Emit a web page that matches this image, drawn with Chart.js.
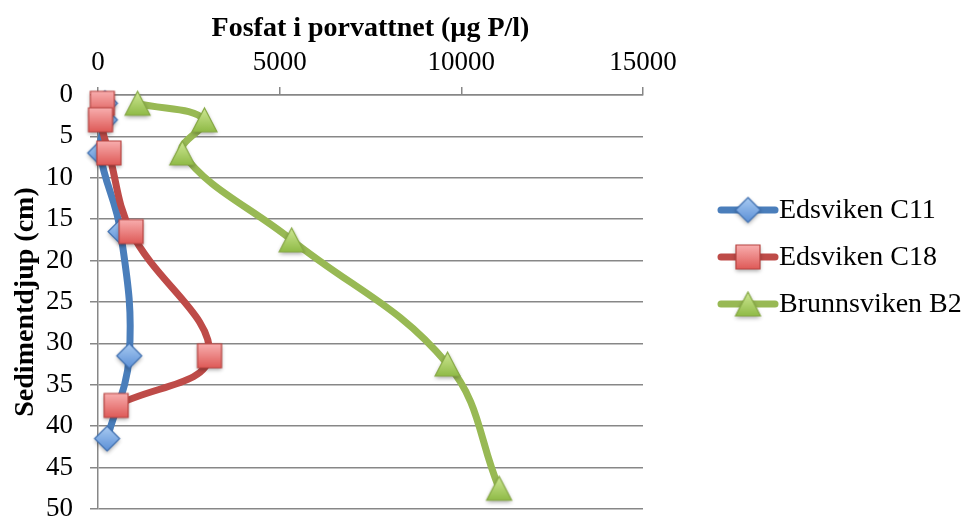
<!DOCTYPE html>
<html lang="sv">
<head>
<meta charset="utf-8">
<title>Fosfat i porvattnet</title>
<script src="https://cdn.jsdelivr.net/npm/chart.js@4/dist/chart.umd.min.js"></script>
<style>
  html, body { margin: 0; padding: 0; background: #ffffff; }
  #wrap { width: 963px; height: 528px; }
  canvas { display: block; }
</style>
</head>
<body>
<div id="wrap"><canvas id="c" width="963" height="528"></canvas></div>
<script>
// Sediment depth (cm) and pore-water phosphate (µg P/l) per core
const seriesNames = ['Edsviken C11', 'Edsviken C18', 'Brunnsviken B2'];

const depthC11 = [1, 3, 7, 16.5, 31.5, 41.5];
const phosC11  = [190, 190, 60, 620, 860, 250];

const depthC18 = [1, 3, 7, 16.5, 31.5, 37.5];
const phosC18  = [120, 70, 300, 910, 3070, 500];

const depthB2 = [1, 3, 7, 17.5, 32.5, 47.5];
const phosB2  = [1090, 2930, 2320, 5330, 9620, 11040];

const phosTicks  = [0, 5000, 10000, 15000];
const depthTicks = [0, 5, 10, 15, 20, 25, 30, 35, 40, 45, 50];

const FONT = "'Liberation Serif', 'Times New Roman', serif";
const GRID = '#878787';

// Shaded marker glyphs with a soft drop shadow
function markerImage(shape, w, h, top, bottom, stroke) {
  const pad = 7;
  const cv = document.createElement('canvas');
  cv.width = w + pad * 2;
  cv.height = h + pad * 2;
  const g = cv.getContext('2d');
  const cx = cv.width / 2, cy = cv.height / 2;
  g.beginPath();
  if (shape === 'diamond') {
    g.moveTo(cx, cy - h / 2);
    g.lineTo(cx + w / 2, cy);
    g.lineTo(cx, cy + h / 2);
    g.lineTo(cx - w / 2, cy);
  } else if (shape === 'square') {
    g.rect(cx - w / 2, cy - h / 2, w, h);
  } else {
    g.moveTo(cx, cy - h / 2);
    g.lineTo(cx + w / 2, cy + h / 2);
    g.lineTo(cx - w / 2, cy + h / 2);
  }
  g.closePath();
  const grad = g.createLinearGradient(0, cy - h / 2, 0, cy + h / 2);
  grad.addColorStop(0, top);
  grad.addColorStop(1, bottom);
  g.save();
  g.shadowColor = 'rgba(0,0,0,0.35)';
  g.shadowBlur = 4;
  g.shadowOffsetY = 2;
  g.fillStyle = grad;
  g.fill();
  g.restore();
  g.lineWidth = 1.2;
  g.strokeStyle = stroke;
  g.stroke();
  return cv;
}

const styles = [
  { line: '#4a7ebb', marker: markerImage('diamond', 25, 25, '#a9cbf2', '#5b8fd6', '#3f6fb0') },
  { line: '#be4b48', marker: markerImage('square', 24, 24, '#f8aeae', '#de5a57', '#b84542') },
  { line: '#98b954', marker: markerImage('triangle', 25, 24, '#cfe895', '#8fba46', '#86a845') }
];

function toPoints(xs, ys) {
  return xs.map((x, i) => ({ x: x, y: ys[i] }));
}

const rawSeries = [
  toPoints(phosC11, depthC11),
  toPoints(phosC18, depthC18),
  toPoints(phosB2, depthB2)
];

const datasets = rawSeries.map((pts, i) => ({
  label: seriesNames[i],
  data: pts,
  showLine: true,
  borderColor: styles[i].line,
  backgroundColor: styles[i].line,
  borderWidth: 7,
  borderCapStyle: 'round',
  borderJoinStyle: 'round',
  tension: 0.4,
  pointStyle: styles[i].marker,
  pointRadius: 12,
  pointHoverRadius: 12,
  clip: false,
  order: 3 - i
}));

// Legend: line segment with marker, label to the right
const lineLegend = {
  id: 'lineLegend',
  afterDraw(chart) {
    const { ctx, chartArea } = chart;
    const x0 = chartArea.right + 75;
    const len = 60;
    const midY = (chartArea.top + chartArea.bottom) / 2 + 2;
    const gap = 47;
    ctx.save();
    seriesNames.forEach((name, i) => {
      const y = midY - gap * 2 + gap * i;
      ctx.beginPath();
      ctx.lineCap = 'round';
      ctx.lineWidth = 7;
      ctx.strokeStyle = styles[i].line;
      ctx.moveTo(x0 + 3, y);
      ctx.lineTo(x0 + len - 3, y);
      ctx.stroke();
      const m = styles[i].marker;
      ctx.drawImage(m, x0 + len / 2 - m.width / 2, y - m.height / 2);
      ctx.fillStyle = '#000000';
      ctx.font = '28px ' + FONT;
      ctx.textAlign = 'left';
      ctx.textBaseline = 'middle';
      ctx.fillText(name, x0 + len + 1, y + 1);
    });
    ctx.restore();
  }
};

new Chart(document.getElementById('c'), {
  type: 'scatter',
  data: { datasets: datasets },
  plugins: [lineLegend],
  options: {
    responsive: false,
    animation: false,
    devicePixelRatio: 1,
    layout: { padding: { left: 0, top: 0, right: 320, bottom: 8.5 } },
    plugins: {
      legend: { display: false },
      tooltip: { enabled: false }
    },
    scales: {
      x: {
        type: 'linear',
        position: 'top',
        min: 0,
        max: 15000,
        afterBuildTicks: (s) => { s.ticks = phosTicks.map(v => ({ value: v })); },
        afterFit: (s) => { s.height = 95; s.paddingLeft = 0; s.paddingRight = 0; },
        ticks: {
          color: '#000000',
          font: { family: FONT, size: 27 },
          padding: 8,
          maxRotation: 0,
          callback: (v) => String(v)
        },
        grid: {
          display: true,
          drawOnChartArea: false,
          drawTicks: true,
          tickLength: 8,
          color: GRID,
          lineWidth: 1.5
        },
        border: { display: true, color: GRID, width: 1.5 },
        title: {
          display: true,
          text: 'Fosfat i porvattnet (µg P/l)',
          color: '#000000',
          font: { family: FONT, size: 28, weight: 'bold' },
          padding: { top: 12, bottom: 0 }
        }
      },
      y: {
        type: 'linear',
        reverse: true,
        min: 0,
        max: 50,
        afterBuildTicks: (s) => { s.ticks = depthTicks.map(v => ({ value: v })); },
        afterFit: (s) => { s.width = 98; s.paddingTop = 0; s.paddingBottom = 0; },
        ticks: {
          color: '#000000',
          font: { family: FONT, size: 27 },
          padding: 17,
          callback: (v) => String(v)
        },
        grid: {
          display: true,
          drawOnChartArea: true,
          drawTicks: true,
          tickLength: 8,
          color: GRID,
          lineWidth: 1.5
        },
        border: { display: true, color: GRID, width: 1.5 },
        title: {
          display: true,
          text: 'Sedimentdjup (cm)',
          color: '#000000',
          font: { family: FONT, size: 28, weight: 'bold' },
          padding: { top: 9, bottom: 0 }
        }
      }
    }
  }
});
</script>
</body>
</html>
